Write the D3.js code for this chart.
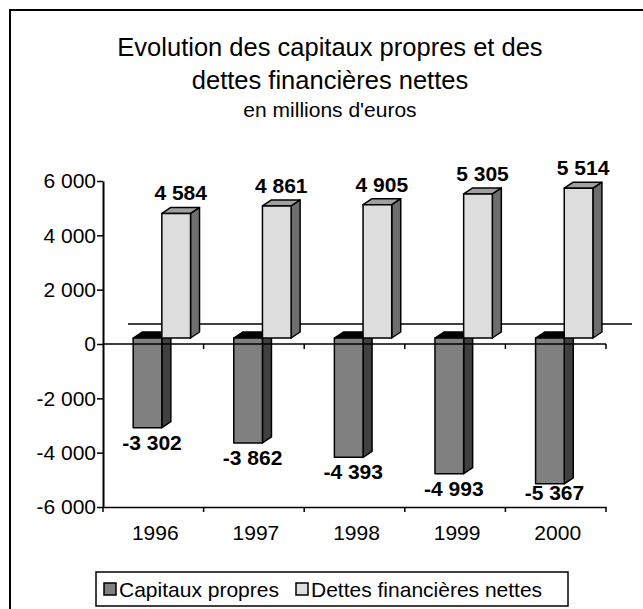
<!DOCTYPE html>
<html>
<head>
<meta charset="utf-8">
<script src="https://cdn.jsdelivr.net/npm/d3@7"></script>
<style>
  body { margin: 0; background: #fff; }
  text { font-family: 'Liberation Sans', Arial, sans-serif; }
</style>
</head>
<body>
<script>
const years = ['1996', '1997', '1998', '1999', '2000'];
const capitaux = [-3302, -3862, -4393, -4993, -5367];
const dettes = [4584, 4861, 4905, 5305, 5514];
const yTicks = [-6000, -4000, -2000, 0, 2000, 4000, 6000];
const seriesNames = ['Capitaux propres', 'Dettes financières nettes'];

const w = 643;
const h = 609;
const dx = 9;
const dy = 6;
const lift = 6;
const fontFam = "'Liberation Sans', Arial, sans-serif";

// french style numbers: space as thousands separator, plain hyphen for minus
const fmt = (d) => (d < 0 ? '-' : '') + d3.format(',')(Math.abs(d)).replace(/,/g, ' ');

const svg = d3.select('body')
                .append('svg')
                .attr('width', w)
                .attr('height', h);

// frame
svg.append('rect')
    .attr('x', 10)
    .attr('y', 10)
    .attr('width', w + 20)
    .attr('height', h + 20)
    .attr('fill', 'white')
    .attr('stroke', 'black')
    .attr('stroke-width', 2);

// title
const cx = 330;
svg.append('text')
    .attr('x', cx).attr('y', 56)
    .attr('text-anchor', 'middle')
    .attr('font-size', 25.5)
    .text('Evolution des capitaux propres et des');
svg.append('text')
    .attr('x', cx).attr('y', 89)
    .attr('text-anchor', 'middle')
    .attr('font-size', 25.5)
    .text('dettes financières nettes');
svg.append('text')
    .attr('x', cx).attr('y', 117)
    .attr('text-anchor', 'middle')
    .attr('font-size', 21)
    .text("en millions d'euros");

const xScale = d3.scaleBand()
                .domain(years)
                .range([103, 606]);

const yScale = d3.scaleLinear()
                .domain([-6000, 6000])
                .range([507, 181]);

const bw = xScale.bandwidth();
const barW = bw * 0.285;

// back wall zero line
svg.append('line')
    .attr('x1', 103 + 25).attr('x2', 606 + 26)
    .attr('y1', yScale(0) - 20).attr('y2', yScale(0) - 20)
    .attr('stroke', 'black')
    .attr('stroke-width', 1.5);

function drawBar(x, v, front, side, top) {
    const y0 = yScale(0) - lift;
    const y1 = yScale(v) - lift;
    const yt = Math.min(y0, y1);
    const yb = Math.max(y0, y1);
    const g = svg.append('g')
        .attr('stroke', 'black')
        .attr('stroke-width', 1.5)
        .attr('stroke-linejoin', 'round');
    g.append('path')
        .attr('fill', side)
        .attr('d', `M${x + barW},${yt} L${x + barW + dx},${yt - dy} L${x + barW + dx},${yb - dy} L${x + barW},${yb} Z`);
    g.append('path')
        .attr('fill', top)
        .attr('d', `M${x},${yt} L${x + dx},${yt - dy} L${x + barW + dx},${yt - dy} L${x + barW},${yt} Z`);
    g.append('rect')
        .attr('fill', front)
        .attr('x', x).attr('y', yt)
        .attr('width', barW).attr('height', yb - yt);
}

years.forEach((yr, i) => {
    const xd = xScale(yr) + bw * 0.3;
    const xl = xd + barW;
    drawBar(xd, capitaux[i], '#808080', '#404040', '#000000');
    drawBar(xl, dettes[i], '#dddddd', '#6e6e6e', '#a0a0a0');

    svg.append('text')
        .attr('x', xd + barW / 2 + dx / 2)
        .attr('y', Math.min(yScale(capitaux[i]) - lift + 22, 500))
        .attr('text-anchor', 'middle')
        .attr('font-size', 21)
        .attr('font-weight', 'bold')
        .text(fmt(capitaux[i]));

    svg.append('text')
        .attr('x', xl + barW / 2 + dx / 2)
        .attr('y', yScale(dettes[i]) - lift - 13)
        .attr('text-anchor', 'middle')
        .attr('font-size', 21)
        .attr('font-weight', 'bold')
        .text(fmt(dettes[i]));
});

// zero axis line with small ticks
svg.append('line')
    .attr('x1', 103).attr('x2', 606)
    .attr('y1', yScale(0)).attr('y2', yScale(0))
    .attr('stroke', 'black').attr('stroke-width', 1.5);
years.forEach((yr) => {
    const x = xScale(yr) + bw;
    svg.append('line')
        .attr('x1', x).attr('x2', x)
        .attr('y1', yScale(0)).attr('y2', yScale(0) + 5)
        .attr('stroke', 'black').attr('stroke-width', 1.5);
});

// y axis
const yAxis = d3.axisLeft(yScale)
                .tickValues(yTicks)
                .tickSizeInner(6)
                .tickSizeOuter(0)
                .tickFormat(fmt);
const gy = svg.append('g')
    .attr('transform', 'translate(103, 0)')
    .call(yAxis);
gy.select('.domain').attr('stroke-width', 2);
gy.selectAll('.tick line').attr('stroke-width', 1.5);
gy.selectAll('.tick text')
    .attr('font-family', fontFam)
    .attr('font-size', 21)
    .attr('fill', 'black')
    .attr('x', -7);

// bottom category axis
const xAxis = d3.axisBottom(xScale)
                .tickSize(0)
                .tickPadding(18);
const gx = svg.append('g')
    .attr('transform', 'translate(0, 507)')
    .call(xAxis);
gx.select('.domain').attr('stroke-width', 1.5);
gx.selectAll('.tick text')
    .attr('font-family', fontFam)
    .attr('font-size', 21)
    .attr('fill', 'black')
    .attr('dx', 2);
[103].concat(years.map((yr) => xScale(yr) + bw)).forEach((x) => {
    svg.append('line')
        .attr('x1', x).attr('x2', x)
        .attr('y1', 507).attr('y2', 512)
        .attr('stroke', 'black').attr('stroke-width', 1.5);
});

// legend
svg.append('rect')
    .attr('x', 96).attr('y', 572)
    .attr('width', 472).attr('height', 34)
    .attr('fill', 'white')
    .attr('stroke', 'black')
    .attr('stroke-width', 1.5);
const legendItems = [
    { name: seriesNames[0], fill: '#808080', x: 104 },
    { name: seriesNames[1], fill: '#dddddd', x: 296 }
];
legendItems.forEach((d) => {
    svg.append('rect')
        .attr('x', d.x).attr('y', 583)
        .attr('width', 12).attr('height', 12)
        .attr('fill', d.fill)
        .attr('stroke', 'black')
        .attr('stroke-width', 1.5);
    svg.append('text')
        .attr('x', d.x + 15).attr('y', 597)
        .attr('font-size', 21)
        .text(d.name);
});
</script>
</body>
</html>
